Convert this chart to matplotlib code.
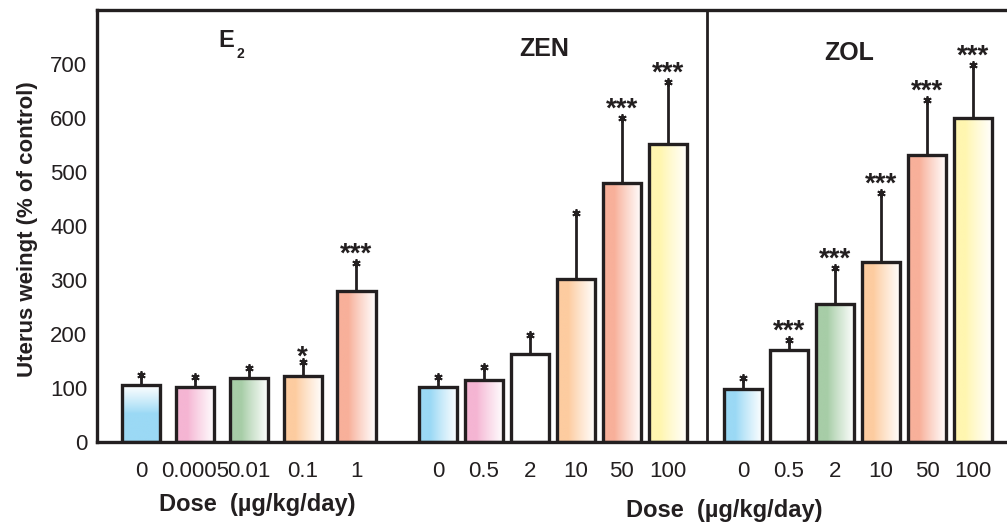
import numpy as np
import matplotlib
matplotlib.use("Agg")
import matplotlib.pyplot as plt
import matplotlib.colors as mcolors

plt.rcParams['font.family'] = ['Liberation Sans', 'DejaVu Sans']

# ---- data -------------------------------------------------------------
e2_doses = ["0", "0.0005", "0.01", "0.1", "1"]
e2_mean = [105, 102, 118, 122, 280]
e2_sd = [19, 18, 19, 26, 51]
e2_sig = ["", "", "", "*", "***"]

zen_doses = ["0", "0.5", "2", "10", "50", "100"]
zen_mean = [102, 115, 163, 302, 480, 552]
zen_sd = [18, 24, 35, 122, 120, 115]
zen_sig = ["", "", "", "", "***", "***"]

zol_doses = ["0", "0.5", "2", "10", "50", "100"]
zol_mean = [98, 170, 256, 333, 531, 600]
zol_sd = [21, 19, 66, 128, 102, 98]
zol_sig = ["", "***", "***", "***", "***", "***"]

e2_colors = ["#9bd9f5", "#f5b5d3", "#a7cda7", "#fdcca0", "#f8b09a"]
zen_colors = ["#9bd9f5", "#f5b5d3", "#ffffff", "#fdcca0", "#f8b09a", "#fff6b0"]
zol_colors = ["#9bd9f5", "#ffffff", "#a7cda7", "#fdcca0", "#f8b09a", "#fff6b0"]

panel_titles = ["E", "ZEN", "ZOL"]
yticks = [0, 100, 200, 300, 400, 500, 600, 700]
ylabel = "Uterus weingt (% of control)"
xlabel = "Dose  (\u00b5g/kg/day)"

# ---- layout -----------------------------------------------------------
W, H = 1007, 523
fig = plt.figure(figsize=(W / 100, H / 100), dpi=100)
ax = fig.add_axes([97 / W, (H - 442) / H, (W - 97) / W, 432 / H])

INK = "#231f20"
XMAX = 19.78
YMAX = 800

e2_x = 0.96 + 1.17 * np.arange(len(e2_mean))
zen_x = 7.41 + 1.0 * np.arange(len(zen_mean))
zol_x = 14.04 + 1.0 * np.arange(len(zol_mean))
divider_x = 13.26
bar_w = 0.83


def gradient_fill(rect, color, vertical=False):
    x0, y0 = rect.get_x(), rect.get_y()
    w, h = rect.get_width(), rect.get_height()
    c = np.array(mcolors.to_rgb(color))
    t = np.linspace(0, 1, 256)
    start = 0.5 if vertical else 0.3
    frac = np.clip((t - start) / (1 - start), 0, 1) ** 0.9
    rgb = c[None, :] * (1 - frac[:, None]) + frac[:, None]
    img = rgb[:, None, :] if vertical else rgb[None, :, :]
    im = ax.imshow(img, extent=[x0, x0 + w, y0, y0 + h], origin="lower",
                   aspect="auto", zorder=1, interpolation="bilinear")
    im.set_clip_path(rect)


def draw_group(xs, means, sds, colors, sigs, first_vertical=False):
    bars = ax.bar(xs, means, width=bar_w, facecolor="none", edgecolor=INK,
                  linewidth=2.4, zorder=3)
    for i, (rect, col) in enumerate(zip(bars, colors)):
        gradient_fill(rect, col, vertical=(first_vertical and i == 0))
    tops = np.array(means) + np.array(sds)
    ax.vlines(xs, means, tops, color=INK, linewidth=2.0, zorder=2)
    ax.plot(xs, tops, linestyle="none", marker=(6, 2, 0), markersize=6,
            markeredgewidth=1.3, color=INK, zorder=4)
    for x, top, s in zip(xs, tops, sigs):
        if s:
            ax.annotate(s, (x, top), xytext=(0, 1 if len(s) > 1 else -2),
                        textcoords="offset points", ha="center",
                        va="baseline", fontsize=20, fontweight="bold",
                        color=INK)


draw_group(e2_x, e2_mean, e2_sd, e2_colors, e2_sig, first_vertical=True)
draw_group(zen_x, zen_mean, zen_sd, zen_colors, zen_sig)
draw_group(zol_x, zol_mean, zol_sd, zol_colors, zol_sig)

ax.axvline(divider_x, color=INK, linewidth=2.0, zorder=5)

ax.set_xlim(0, XMAX)
ax.set_ylim(0, YMAX)

for side in ["left", "bottom", "top"]:
    ax.spines[side].set_linewidth(2.4)
    ax.spines[side].set_color(INK)
ax.spines["right"].set_visible(False)

ax.set_yticks(yticks)
ax.set_yticklabels([str(v) for v in yticks])
ax.set_xticks(np.concatenate([e2_x, zen_x, zol_x]))
ax.set_xticklabels(e2_doses + zen_doses + zol_doses)
ax.tick_params(axis="y", length=0, pad=7, labelsize=16, labelcolor=INK)
ax.tick_params(axis="x", length=0, pad=14, labelsize=16, labelcolor=INK)

# panel titles
ax.text(2.82, 744, panel_titles[0], ha="center", va="center", fontsize=17,
        fontweight="bold", color=INK)
ax.text(3.12, 718, "2", ha="center", va="center", fontsize=10,
        fontweight="bold", color=INK)
ax.text(9.71, 727, panel_titles[1], ha="center", va="center", fontsize=18,
        fontweight="bold", color=INK)
ax.text(16.35, 720, panel_titles[2], ha="center", va="center", fontsize=18,
        fontweight="bold", color=INK)

# axis titles
fig.text(28 / W, 1 - 229 / H, ylabel, rotation=90, ha="center", va="center",
         fontsize=16, fontweight="bold", color=INK)
fig.text(257 / W, 1 - 505 / H, xlabel, ha="center", va="center",
         fontsize=17, fontweight="bold", color=INK)
fig.text(724 / W, 1 - 510 / H, xlabel, ha="center", va="center",
         fontsize=17, fontweight="bold", color=INK)

fig.savefig("out.png", dpi=100)
